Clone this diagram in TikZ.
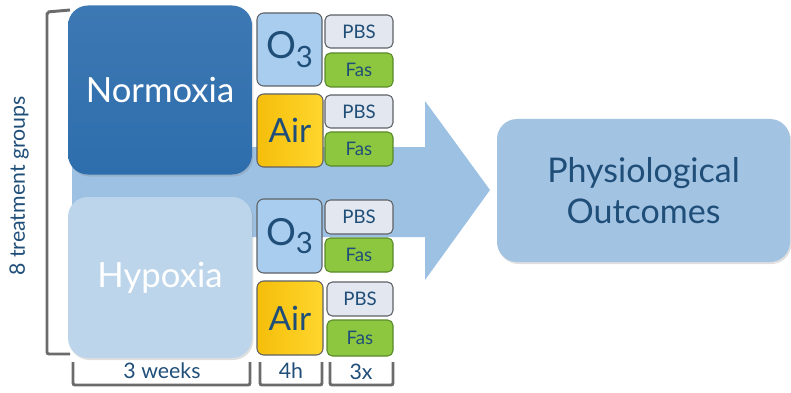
\documentclass[tikz,border=0pt]{standalone}
\usepackage{fontspec}
\setmainfont{Lato}
\usetikzlibrary{shadows}
\definecolor{txtblue}{HTML}{1F4E79}
\definecolor{normblue}{HTML}{2E6EAD}
\definecolor{hypblue}{HTML}{BCD5EB}
\definecolor{ozblue}{HTML}{A8CDEE}
\definecolor{arrblue}{HTML}{9DC1E3}
\definecolor{outblue}{HTML}{A3C3E3}
\definecolor{airgold}{HTML}{F5BE0A}
\definecolor{airlight}{HTML}{FFD62E}
\definecolor{pbsgrey}{HTML}{E3E7EF}
\definecolor{fasgreen}{HTML}{8DC63F}
\definecolor{fasedge}{HTML}{5A8A2B}
\definecolor{edgegrey}{HTML}{5E6266}
\definecolor{brgrey}{HTML}{6B6B6B}
\tikzset{
  sz/.style 2 args={minimum width=#1*0.75pt, minimum height=#2*0.75pt},
  cellbox/.style={inner sep=0pt, outer sep=0pt},
  bigbox/.style={cellbox, rounded corners=15pt, text=white, font=\fontsize{26}{30}\selectfont},
  gasbox/.style={cellbox, rounded corners=5pt, draw=edgegrey, line width=0.8pt, text=txtblue},
  ozbox/.style={gasbox, fill=ozblue, font=\fontsize{28}{30}\selectfont},
  airbox/.style={gasbox, left color=airgold, right color=airlight, font=\fontsize{25}{28}\selectfont},
  smallbox/.style={cellbox, rounded corners=4pt, line width=0.8pt, text=txtblue, font=\fontsize{14}{16}\selectfont},
  pbsbox/.style={smallbox, draw=edgegrey, fill=pbsgrey},
  fasbox/.style={smallbox, draw=fasedge, fill=fasgreen},
  bracket/.style={draw=brgrey, line width=2.2pt, rounded corners=1.5pt},
  brlabel/.style={text=txtblue, font=\fontsize{16}{18}\selectfont},
  soft/.style={drop shadow={shadow xshift=1pt, shadow yshift=-1.5pt, opacity=0.25}},
}
\newcommand{\ozone}{O\raisebox{-0.45ex}{\fontsize{22}{22}\selectfont 3}}
\begin{document}
\begin{tikzpicture}[x=0.75pt, y=-0.75pt]
\useasboundingbox (0,0) rectangle (791,392);

% flow arrow behind the groups
\coordinate (atip) at (490,190);
\fill[arrblue] (72,147) -- (425,147) -- (425,101) -- (atip) -- (425,280) -- (425,237) -- (72,237) -- cycle;

% exposure groups
\node[bigbox, soft, top color=normblue!93!white, bottom color=normblue, sz={184}{169}] (norm) at (160,90) {Normoxia};
\node[bigbox, soft, fill=hypblue, sz={184}{161}] (hyp) at (160,277.5) {Hypoxia};

\node[ozbox, sz={65}{73}] (oz1) at (289.5,49.5) {\ozone};
\node[airbox, sz={66}{73}] (air1) at (290,130.5) {Air};
\node[ozbox, sz={65}{74}] (oz2) at (289.5,236) {\ozone};
\node[airbox, sz={66}{74}] (air2) at (290,318) {Air};

\node[pbsbox, sz={68}{33}] (p1) at (359,31.5) {PBS};
\node[fasbox, sz={68}{34}] (f1) at (359,70) {Fas};
\node[pbsbox, sz={68}{33}] (p2) at (359,111.5) {PBS};
\node[fasbox, sz={68}{34}] (f2) at (359,149) {Fas};
\node[pbsbox, sz={68}{34}] (p3) at (359,217) {PBS};
\node[fasbox, sz={68}{34}] (f3) at (359,255) {Fas};
\node[pbsbox, sz={66}{34}] (p4) at (360,299) {PBS};
\node[fasbox, sz={66}{36}] (f4) at (360,338) {Fas};

% outcome
\node[cellbox, soft, rounded corners=15pt, fill=outblue, text=txtblue, align=center,
      font=\fontsize{25.5}{31}\selectfont, sz={293}{143}] (out) at (643.5,190.5) {Physiological\\Outcomes};

% brackets
\coordinate (lt) at (70,10);
\coordinate (lb) at (70,354);
\draw[bracket] (lt) -- (47,12) -- (47,354) -- (lb);
\node[rotate=90, brlabel] (groups) at (19,186) {8 treatment groups};

\coordinate (w1) at (73,362);
\coordinate (w2) at (250,362);
\draw[bracket] (w1) -- (73,385) -- (250,385) -- (w2);
\node[brlabel] (weeks) at (162,371) {3 weeks};

\coordinate (h1) at (260,362);
\coordinate (h2) at (322,362);
\draw[bracket] (h1) -- (260,385) -- (322,385) -- (h2);
\node[brlabel] (hours) at (291,371) {4h};

\coordinate (x1) at (330,362);
\coordinate (x2) at (393,362);
\draw[bracket] (x1) -- (330,385) -- (393,385) -- (x2);
\node[brlabel] (times) at (361,372) {3x};
\end{tikzpicture}
\end{document}
